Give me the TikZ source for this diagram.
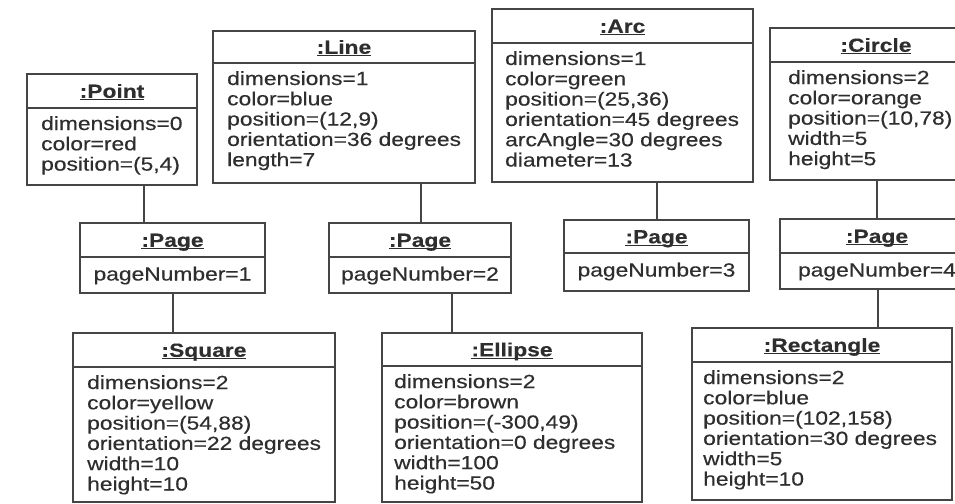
\documentclass[tikz,border=0pt]{standalone}
\usepackage{fontspec}
\setmainfont{Liberation Sans}[FakeStretch=1.2, FakeBold=0.35, BoldFeatures={FakeStretch=1.2}]
\usetikzlibrary{fit}
\definecolor{ink}{HTML}{2E2E2E}
\definecolor{edgec}{HTML}{454545}
\newcommand{\ulbox}[1]{\setbox0\hbox{#1}\rlap{\rule[-2.6pt]{\wd0}{1.1pt}}\box0}
\tikzset{
  obox/.style={draw=edgec, line width=1.3pt, inner sep=0pt, fill=none},
  edgeline/.style={draw=edgec, line width=1.3pt},
  otitle/.style={anchor=base, inner sep=0pt, text=ink, font=\fontsize{19}{20.3}\selectfont\bfseries},
  obody/.style={inner sep=0pt, text=ink, font=\fontsize{19}{20.3}\selectfont},
}
% #1 name, #2 x1, #3 x2, #4 top, #5 divider, #6 bottom, #7 title, #8 body, #9 inset
\newcommand{\objbox}[9]{%
  \node[obox, fit={(#2,#4)(#3,#6)}] (#1) {};
  \coordinate (#1-d) at (0,#5);
  \draw[edgeline] (#1.west |- #1-d) -- (#1.east |- #1-d);
  \node[otitle] (#1-t) at ({(#2+#3)/2},{(#4+#5)/2+6.8}) {\ulbox{#7}};
  \node[obody, anchor=base west] (#1-b) at (#2+#9,#5+22) {\begin{tabular}[t]{@{}l@{}}#8\end{tabular}};
}
\newcommand{\pagebox}[8]{%
  \node[obox, fit={(#2,#4)(#3,#6)}] (#1) {};
  \coordinate (#1-d) at (0,#5);
  \draw[edgeline] (#1.west |- #1-d) -- (#1.east |- #1-d);
  \node[otitle] (#1-t) at ({(#2+#3)/2},{(#4+#5)/2+6.8}) {\ulbox{#7}};
  \node[obody, anchor=base] (#1-b) at ({(#2+#3)/2},#5+23.5) {#8};
}
\begin{document}
\begin{tikzpicture}[x=1pt,y=-1pt]
\useasboundingbox (0,0) rectangle (955,503);
\fill[white] (0,0) rectangle (955,503);
\clip (0,0) rectangle (955,503);

\objbox{point}{27}{197}{74}{108}{185}{:Point}{dimensions=0\\color=red\\position=(5,4)}{14}
\objbox{line}{213}{475}{31}{63}{183}{:Line}{dimensions=1\\color=blue\\position=(12,9)\\orientation=36 degrees\\length=7}{14}
\objbox{arc}{492}{753}{9}{43}{182}{:Arc}{dimensions=1\\color=green\\position=(25,36)\\orientation=45 degrees\\arcAngle=30 degrees\\diameter=13}{13}
\objbox{circle}{770}{982}{28}{62}{180}{:Circle}{dimensions=2\\color=orange\\position=(10,78)\\width=5\\height=5}{18}

\pagebox{page1}{80}{265}{223}{257}{293}{:Page}{pageNumber=1}
\pagebox{page2}{329}{511}{223}{257}{293}{:Page}{pageNumber=2}
\pagebox{page3}{564}{749}{220}{253}{291}{:Page}{pageNumber=3}
\pagebox{page4}{780}{974}{219}{253}{289}{:Page}{pageNumber=4}

\objbox{square}{73}{335}{333}{367}{502}{:Square}{dimensions=2\\color=yellow\\position=(54,88)\\orientation=22 degrees\\width=10\\height=10}{14}
\objbox{ellipse}{382}{642}{333}{366}{502}{:Ellipse}{dimensions=2\\color=brown\\position=(-300,49)\\orientation=0 degrees\\width=100\\height=50}{12}
\objbox{rect}{692}{952}{328}{362}{500}{:Rectangle}{dimensions=2\\color=blue\\position=(102,158)\\orientation=30 degrees\\width=5\\height=10}{11}

\coordinate (c1) at (144,0);
\coordinate (c2) at (421,0);
\coordinate (c3) at (657,0);
\coordinate (c4) at (877,0);
\coordinate (c5) at (173,0);
\coordinate (c6) at (452,0);
\coordinate (c7) at (878,0);
\draw[edgeline] (point.south -| c1) -- (page1.north -| c1);
\draw[edgeline] (line.south -| c2) -- (page2.north -| c2);
\draw[edgeline] (arc.south -| c3) -- (page3.north -| c3);
\draw[edgeline] (circle.south -| c4) -- (page4.north -| c4);
\draw[edgeline] (page1.south -| c5) -- (square.north -| c5);
\draw[edgeline] (page2.south -| c6) -- (ellipse.north -| c6);
\draw[edgeline] (page4.south -| c7) -- (rect.north -| c7);
\end{tikzpicture}
\end{document}
